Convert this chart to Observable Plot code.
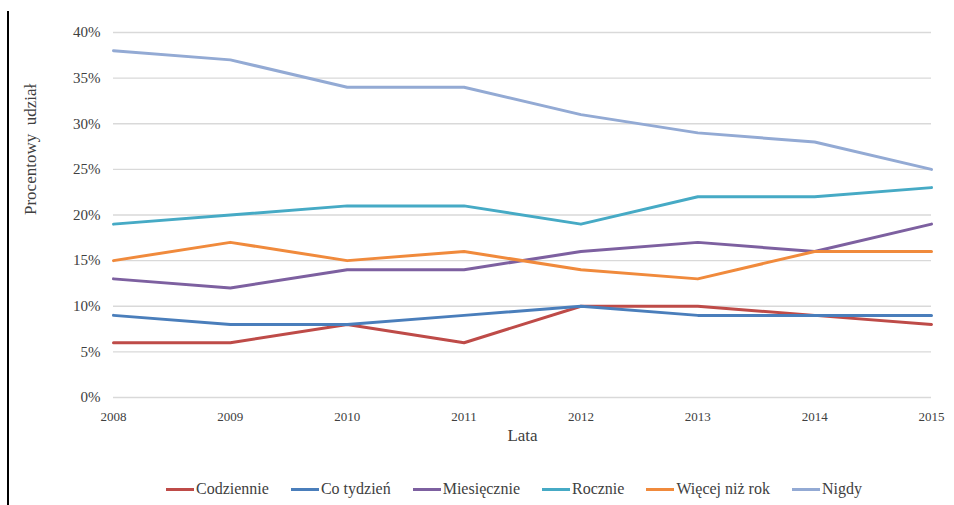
<!DOCTYPE html>
<html>
<head>
<meta charset="utf-8">
<script src="https://cdn.jsdelivr.net/npm/d3@7"></script>
<script src="https://cdn.jsdelivr.net/npm/@observablehq/plot@0.6"></script>
<style>
  html, body { margin: 0; padding: 0; background: #fff; }
  #wrap { position: relative; width: 954px; height: 505px; overflow: hidden; font-family: "Liberation Serif", "Times New Roman", serif; }
  #border { position: absolute; left: 7px; top: 11px; width: 2px; height: 494px; background: #000; }
  #legend { position: absolute; left: 37px; top: 480px; width: 954px; display: flex; justify-content: center; gap: 22px; font-size: 16px; color: #404040; }
  .item { display: flex; align-items: center; }
  .swatch { width: 28px; height: 3px; margin-right: 2px; }
  #chart svg text { font-family: "Liberation Serif", "Times New Roman", serif; }
</style>
</head>
<body>
<div id="wrap">
  <div id="border"></div>
  <div id="chart"></div>
  <div id="legend"></div>
</div>
<script>
const years = [2008, 2009, 2010, 2011, 2012, 2013, 2014, 2015];
const seriesNames = ["Codziennie", "Co tydzień", "Miesięcznie", "Rocznie", "Więcej niż rok", "Nigdy"];
const codziennie   = [6, 6, 8, 6, 10, 10, 9, 8];
const coTydzien    = [9, 8, 8, 9, 10, 9, 9, 9];
const miesiecznie  = [13, 12, 14, 14, 16, 17, 16, 19];
const rocznie      = [19, 20, 21, 21, 19, 22, 22, 23];
const wiecejNizRok = [15, 17, 15, 16, 14, 13, 16, 16];
const nigdy        = [38, 37, 34, 34, 31, 29, 28, 25];
const yTicks = [0, 5, 10, 15, 20, 25, 30, 35, 40];
const colors = ["#BE4B48", "#4A7EBB", "#7D60A0", "#46AAC5", "#F08A3C", "#93AAD4"];

const valuesList = [codziennie, coTydzien, miesiecznie, rocznie, wiecejNizRok, nigdy];
const data = [];
seriesNames.forEach((s, i) => {
  years.forEach((y, j) => data.push({series: s, year: y, value: valuesList[i][j]}));
});

const chart = Plot.plot({
  width: 954,
  height: 470,
  marginLeft: 113,
  marginRight: 23,
  marginTop: 32,
  marginBottom: 73,
  style: {fontFamily: "'Liberation Serif', 'Times New Roman', serif", fontSize: "15px", color: "#404040", background: "transparent"},
  x: {type: "linear", domain: [2008, 2015]},
  y: {domain: [0, 40]},
  color: {domain: seriesNames, range: colors},
  marks: [
    Plot.ruleY(yTicks, {stroke: "#D9D9D9", strokeWidth: 1.3}),
    Plot.axisY({ticks: yTicks, tickFormat: d => d + "%", tickSize: 0, tickPadding: 13, label: null, fontSize: 15}),
    Plot.axisX({ticks: years, tickFormat: d => String(d), tickSize: 0, tickPadding: 14, label: null, fontSize: 13}),
    Plot.lineY(data, {x: "year", y: "value", stroke: "series", strokeWidth: 3}),
    Plot.text(["Lata"], {frameAnchor: "bottom", dy: 43, fontSize: 17, fill: "#404040"}),
    Plot.text(["Procentowy\u00a0\u00a0udział"], {frameAnchor: "left", dx: -83, rotate: -90, fontSize: 17, fill: "#404040"})
  ]
});
document.getElementById("chart").appendChild(chart);

const legend = document.getElementById("legend");
seriesNames.forEach((s, i) => {
  const item = document.createElement("div");
  item.className = "item";
  const sw = document.createElement("span");
  sw.className = "swatch";
  sw.style.background = colors[i];
  const t = document.createElement("span");
  t.textContent = s;
  item.appendChild(sw);
  item.appendChild(t);
  legend.appendChild(item);
});
</script>
</body>
</html>
